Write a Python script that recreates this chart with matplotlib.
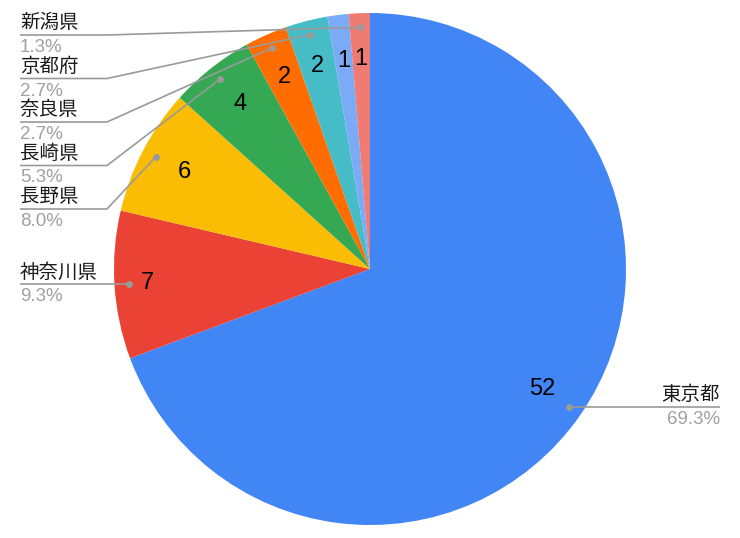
import numpy as np
import matplotlib
matplotlib.use('Agg')
from matplotlib import pyplot as plt

plt.rcParams['font.family'] = ['Liberation Sans', 'Noto Sans CJK JP']

# data, clockwise from 12 o'clock
names = ['東京都', '神奈川県', '長野県', '長崎県', '奈良県', '京都府', '', '新潟県']  # 7th label hidden in source
counts = [52, 7, 6, 4, 2, 2, 1, 1]
colors = ['#4285F4', '#EA4335', '#FBBC04', '#34A853', '#FF6D01', '#46BDC6', '#7BAAF7', '#F07B72']

W, H = 740, 538
cx, cy, R = 370, H - 269, 256

fig = plt.figure(figsize=(W/100, H/100), dpi=100)
ax = fig.add_axes([0, 0, 1, 1])
wedges, _ = ax.pie(counts, colors=colors, startangle=90, counterclock=False,
                   center=(cx, cy), radius=R, wedgeprops={'linewidth': 0})
ax.set_xlim(0, W)
ax.set_ylim(0, H)
ax.set_aspect('equal')
ax.axis('off')

total = sum(counts)
line_col = '#9a9a9a'
pct_col = '#a0a0a0'
txt_col = '#1a1a1a'

# value labels inside slices
mids = []
for w, c in zip(wedges, counts):
    a = np.deg2rad((w.theta1 + w.theta2) / 2)
    mids.append(a)
    rr = 0.82*R if c > 2 or np.sin(a) > 0.5 else 0.86*R
    if c == 7:
        rr = 0.87*R
    ax.text(cx + rr*np.cos(a), cy + rr*np.sin(a), str(c),
            ha='center', va='center', fontsize=17, color='black')

# left side labels, stacked top-down
left = [i for i in range(len(counts)) if names[i] and np.cos(mids[i]) < 0]
left.sort(key=lambda i: -np.sin(mids[i]))
prev = None
for i in left:
    a = mids[i]
    dx, dy = cx + 0.945*R*np.cos(a), cy + 0.945*R*np.sin(a)
    dot_py = H - dy
    ly = max(dot_py, 35) if prev is None else max(dot_py, prev + 43.5)
    prev = ly
    ly_d = H - ly
    if abs(ly_d - dy) < 1:
        xs, ys = [20, dx], [ly_d, ly_d]
    else:
        xs, ys = [20, 107, dx], [ly_d, ly_d, dy]
    ax.plot(xs, ys, color=line_col, lw=1.2, solid_capstyle='butt')
    ax.plot(dx, dy, 'o', ms=5, color=line_col, mec='none')
    ax.text(20, ly_d + 12, names[i], ha='left', va='center', fontsize=14, color=txt_col)
    ax.text(20, ly_d - 12.5, '%.1f%%' % (100*counts[i]/total), ha='left', va='center',
            fontsize=13.5, color=pct_col)

# right side labels
for i in range(len(counts)):
    a = mids[i]
    if not names[i] or np.cos(a) < 0:
        continue
    dx, dy = cx + 0.945*R*np.cos(a), cy + 0.945*R*np.sin(a)
    ax.plot([dx, 720], [dy, dy], color=line_col, lw=1.2, solid_capstyle='butt')
    ax.plot(dx, dy, 'o', ms=5, color=line_col, mec='none')
    ax.text(720, dy + 12, names[i], ha='right', va='center', fontsize=14, color=txt_col)
    ax.text(720, dy - 12.5, '%.1f%%' % (100*counts[i]/total), ha='right', va='center',
            fontsize=13.5, color=pct_col)

fig.savefig('out.png', dpi=100)
